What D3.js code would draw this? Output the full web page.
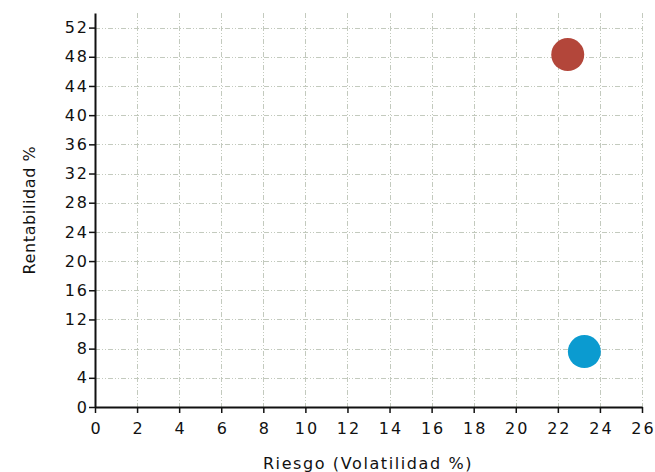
<!DOCTYPE html>
<html><head><meta charset="utf-8">
<script src="https://cdn.jsdelivr.net/npm/d3@7"></script>
<style>body{margin:0;background:#fff}svg{display:block}text{font-family:"DejaVu Sans",Verdana,sans-serif}</style>
</head><body><svg id="c" width="655" height="472"></svg>
<script>
const names = ["A","B"];
const risk = [22.47, 23.26];
const ret = [48.3, 7.6];
const colors = ["#b3463a","#0b9bd0"];
const xTicks = [0,2,4,6,8,10,12,14,16,18,20,22,24,26];
const yTicks = [0,4,8,12,16,20,24,28,32,36,40,44,48,52];
const xTitle = "Riesgo (Volatilidad %)";
const yTitle = "Rentabilidad %";

const svg = d3.select("#c");
const x = d3.scaleLinear().domain([0,26]).range([95,642]);
const y = d3.scaleLinear().domain([0,54]).range([407,13]);

const grid = svg.append("g").attr("stroke","#c3cabe").attr("stroke-width",1).attr("stroke-dasharray","5,2,1,2,1,2");
grid.selectAll(".v").data(xTicks.filter(d=>d>0)).join("line")
  .attr("x1",d=>Math.round(x(d))+0.5).attr("x2",d=>Math.round(x(d))+0.5).attr("y1",y(54)).attr("y2",y(0));
grid.selectAll(".h").data(yTicks.filter(d=>d>0)).join("line")
  .attr("y1",d=>Math.round(y(d))+0.5).attr("y2",d=>Math.round(y(d))+0.5).attr("x1",x(0)).attr("x2",x(26));

svg.selectAll("circle").data(names).join("circle")
  .attr("cx",(d,i)=>x(risk[i])).attr("cy",(d,i)=>y(ret[i])).attr("r",16.5)
  .attr("fill",(d,i)=>colors[i]);

const xa = svg.append("g").attr("transform",`translate(0,${y(0)})`)
  .call(d3.axisBottom(x).tickValues(xTicks).tickSize(6).tickSizeOuter(0).tickPadding(10));
const ya = svg.append("g").attr("transform",`translate(${x(0)},0)`)
  .call(d3.axisLeft(y).tickValues(yTicks).tickSize(6).tickSizeOuter(0).tickPadding(0));
[xa,ya].forEach(a=>{
  a.select(".domain").attr("stroke","#111").attr("stroke-width",2);
  a.selectAll(".tick line").attr("stroke","#111").attr("stroke-width",1.5);
  a.selectAll(".tick text").attr("fill","#111").style("font-size","16px").style("font-family","DejaVu Sans").style("letter-spacing","2px");
});
xa.selectAll(".tick text").attr("dx","1px");

svg.append("text").attr("x",368).attr("y",469).attr("text-anchor","middle")
  .style("font-size","16px").attr("fill","#111").style("letter-spacing","1.6px").text(xTitle);
svg.append("text").attr("transform","translate(35,210) rotate(-90)").attr("text-anchor","middle")
  .style("font-size","16px").attr("fill","#111").style("letter-spacing","0.6px").text(yTitle);
</script></body></html>
